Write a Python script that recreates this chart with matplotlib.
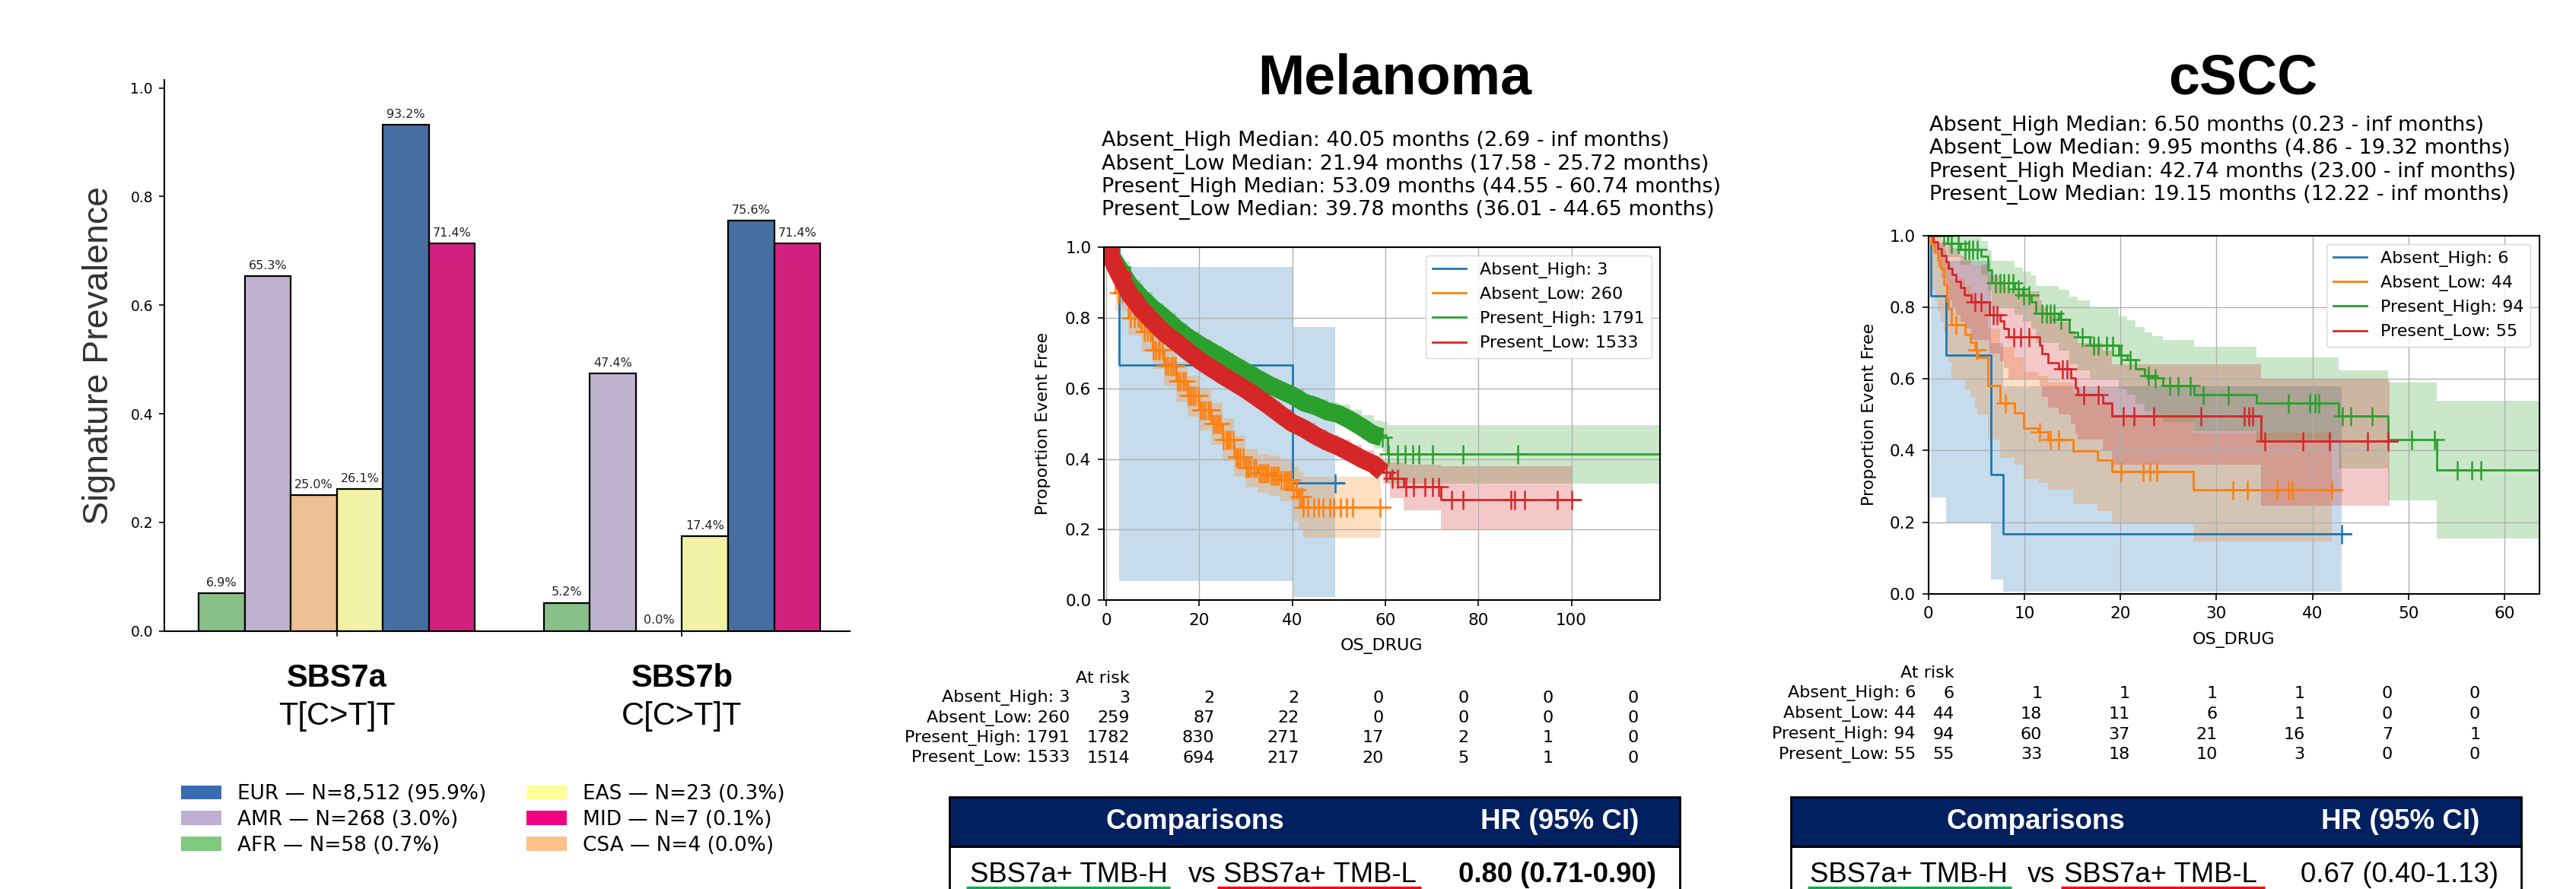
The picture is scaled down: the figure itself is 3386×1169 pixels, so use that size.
import colorsys

import numpy as np
import matplotlib
matplotlib.use("Agg")
import matplotlib.pyplot as plt
from matplotlib.patches import Patch, Rectangle
from matplotlib.transforms import blended_transform_factory

plt.rcParams["font.family"] = ["DejaVu Sans"]
ARIAL = "Liberation Sans"

W, H = 3387, 1169

# ---------------- bar chart data ----------------
ancestries = ["AFR", "AMR", "CSA", "EAS", "EUR", "MID"]
anc_colors = ["#7fc97f", "#beaed4", "#fdc086", "#ffff99", "#386cb0", "#f0027f"]
sbs7a_prev = [0.069, 0.653, 0.250, 0.261, 0.932, 0.714]
sbs7b_prev = [0.052, 0.474, 0.0, 0.174, 0.756, 0.714]
signatures = ["SBS7a", "SBS7b"]
contexts = ["T[C>T]T", "C[C>T]T"]
legend_order = ["EUR", "AMR", "AFR", "EAS", "MID", "CSA"]
legend_labels = ["EUR — N=8,512 (95.9%)", "AMR — N=268 (3.0%)", "AFR — N=58 (0.7%)",
                 "EAS — N=23 (0.3%)", "MID — N=7 (0.1%)", "CSA — N=4 (0.0%)"]

# ---------------- KM data: melanoma ----------------
mel_ah_t = [0, 2.69, 40.05]
mel_ah_s = [1.0, 0.667, 0.333]
mel_ah_lo = [1.0, 0.054, 0.009]
mel_ah_hi = [1.0, 0.945, 0.774]
mel_ah_cens = [49.2]

mel_al_t = [0, 2.0, 4.75, 7.5, 10, 12.5, 15, 17.5, 20, 22.5, 25, 27.5, 30, 32.5, 35, 37.5, 40, 41.3, 42.4]
mel_al_s = [1.0, 0.87, 0.8, 0.76, 0.71, 0.665, 0.62, 0.58, 0.54, 0.5, 0.455, 0.405, 0.375, 0.36,
            0.353, 0.34, 0.314, 0.293, 0.264]
mel_al_lo = [1.0, 0.82, 0.75, 0.705, 0.655, 0.605, 0.56, 0.52, 0.48, 0.44, 0.395, 0.35, 0.32, 0.305,
             0.295, 0.28, 0.225, 0.2, 0.178]
mel_al_hi = [1.0, 0.91, 0.85, 0.81, 0.765, 0.72, 0.675, 0.635, 0.6, 0.56, 0.515, 0.465, 0.43, 0.415,
             0.41, 0.4, 0.38, 0.365, 0.35]
mel_al_cens = [2.6, 3.5, 4.3, 5.2, 6.0, 6.8, 7.4, 8.1, 8.8, 9.4, 10.1, 10.6, 11.2, 11.5, 12.1, 12.7,
               13.3, 13.9, 14.4, 14.8, 15.4, 15.9, 16.5, 17.0, 17.6, 18.2, 18.7, 19.1, 19.8, 20.3,
               20.8, 21.2, 21.9, 22.4, 23.0, 23.5, 24.1, 24.6, 25.2, 25.8, 26.2, 26.7, 27.3, 27.9,
               28.3, 28.8, 29.5, 30.1, 30.6, 31.0, 31.7, 32.2, 32.8, 33.4, 33.9, 34.3, 34.9, 35.5,
               36.0, 36.4, 37.0, 37.6, 38.2, 38.8, 39.2, 39.7, 40.3, 40.9, 41.5, 42.0, 42.4, 43.3,
               44.6, 45.7, 46.6, 48.1, 48.9, 50.3, 51.7, 53.0, 58.8]

mel_ph_t = [0, 2.5, 5, 7.5, 10, 12.5, 15, 17.5, 20, 22.5, 25, 27.5, 30, 32.5, 35, 37.5, 40, 42.5,
            45, 47.5, 50, 52.5, 55, 57.5, 59.3, 60.5]
mel_ph_s = [1.0, 0.945, 0.893, 0.857, 0.826, 0.8, 0.77, 0.745, 0.724, 0.705, 0.686, 0.666, 0.647,
            0.628, 0.61, 0.595, 0.58, 0.56, 0.55, 0.535, 0.527, 0.51, 0.49, 0.468, 0.462, 0.415]
mel_ph_lo = [1.0, 0.93, 0.878, 0.842, 0.811, 0.785, 0.755, 0.73, 0.709, 0.69, 0.671, 0.651, 0.632,
             0.613, 0.595, 0.58, 0.563, 0.542, 0.53, 0.51, 0.5, 0.48, 0.455, 0.43, 0.42, 0.33]
mel_ph_hi = [1.0, 0.96, 0.908, 0.872, 0.841, 0.815, 0.785, 0.76, 0.739, 0.72, 0.701, 0.681, 0.662,
             0.643, 0.625, 0.61, 0.597, 0.578, 0.57, 0.56, 0.555, 0.54, 0.525, 0.51, 0.505, 0.495]
mel_ph_cens = [58.2, 59.4, 60.7, 62.6, 64.2, 65.9, 67.2, 70.2, 76.7, 88.5]

mel_pl_t = [0, 2.5, 5, 7.5, 10, 12.5, 15, 17.5, 20, 22.5, 25, 27.5, 30, 32.5, 35, 37.5, 40, 42.5,
            45, 47.5, 50, 52.5, 55, 57.5, 59.5, 61, 64, 72]
mel_pl_s = [1.0, 0.93, 0.868, 0.825, 0.79, 0.757, 0.732, 0.705, 0.68, 0.658, 0.637, 0.617, 0.597,
            0.574, 0.551, 0.526, 0.502, 0.486, 0.466, 0.449, 0.435, 0.418, 0.4, 0.385, 0.362,
            0.345, 0.322, 0.286]
mel_pl_lo = [1.0, 0.915, 0.853, 0.81, 0.775, 0.742, 0.717, 0.69, 0.665, 0.643, 0.622, 0.602, 0.582,
             0.559, 0.536, 0.511, 0.487, 0.47, 0.449, 0.431, 0.415, 0.395, 0.375, 0.355, 0.33,
             0.29, 0.255, 0.198]
mel_pl_hi = [1.0, 0.945, 0.883, 0.84, 0.805, 0.772, 0.747, 0.72, 0.695, 0.673, 0.652, 0.632, 0.612,
             0.589, 0.566, 0.541, 0.517, 0.502, 0.483, 0.467, 0.455, 0.44, 0.425, 0.41, 0.395,
             0.39, 0.385, 0.38]
mel_pl_cens = [60.2, 61.5, 62.7, 64.4, 66, 68.5, 70.1, 71.4, 74.2, 76.7, 87, 87.8, 89.9, 96.9, 100]

mel_medians = ["Absent_High Median: 40.05 months (2.69 - inf months)",
               "Absent_Low Median: 21.94 months (17.58 - 25.72 months)",
               "Present_High Median: 53.09 months (44.55 - 60.74 months)",
               "Present_Low Median: 39.78 months (36.01 - 44.65 months)"]
mel_risk_times = [0, 20, 40, 60, 80, 100, 120]
mel_risk_labels = ["Absent_High: 3", "Absent_Low: 260", "Present_High: 1791", "Present_Low: 1533"]
mel_risk_counts = [[3, 2, 2, 0, 0, 0, 0],
                   [259, 87, 22, 0, 0, 0, 0],
                   [1782, 830, 271, 17, 2, 1, 0],
                   [1514, 694, 217, 20, 5, 1, 0]]

# ---------------- KM data: cSCC ----------------
cs_ah_t = [0, 0.23, 1.83, 6.5, 7.8]
cs_ah_s = [1.0, 0.833, 0.667, 0.333, 0.167]
cs_ah_lo = [1.0, 0.27, 0.197, 0.04, 0.005]
cs_ah_hi = [1.0, 0.98, 0.93, 0.7, 0.58]
cs_ah_cens = [43.0]

cs_al_t = [0, 0.3, 0.7, 1.0, 1.3, 1.6, 1.9, 2.1, 2.4, 3.8, 4.4, 4.9, 5.1, 6.2, 7.5, 9.0, 9.9, 11.4,
           12.5, 15.1, 17.6, 19.1, 27.6]
cs_al_s = [1.0, 0.977, 0.955, 0.932, 0.909, 0.864, 0.818, 0.795, 0.752, 0.724, 0.703, 0.681, 0.66,
           0.582, 0.533, 0.504, 0.462, 0.451, 0.431, 0.398, 0.373, 0.341, 0.29]
cs_al_lo = [1.0, 0.85, 0.82, 0.79, 0.76, 0.73, 0.68, 0.65, 0.6, 0.57, 0.55, 0.52, 0.5, 0.43, 0.38,
            0.36, 0.32, 0.31, 0.29, 0.25, 0.23, 0.195, 0.145]
cs_al_hi = [1.0, 0.997, 0.99, 0.98, 0.97, 0.96, 0.93, 0.92, 0.88, 0.86, 0.84, 0.82, 0.81, 0.74, 0.69,
            0.66, 0.62, 0.61, 0.59, 0.56, 0.53, 0.5, 0.45]
cs_al_cens = [2.9, 5.0, 8.0, 11.6, 12.7, 13.6, 20.1, 22.4, 23.1, 23.8, 31.7, 33.2, 36.3, 37.5, 37.9, 42.0]

cs_ph_t = [0, 2.04, 3.35, 5.52, 6.17, 6.61, 9.0, 9.87, 10.74, 11.17, 13.57, 14.65, 15.52, 16.83,
           19.87, 20.74, 21.6, 22.5, 23.35, 24.43, 27.7, 34.2, 42.74, 47.9, 52.9]
cs_ph_s = [1.0, 0.979, 0.961, 0.943, 0.904, 0.869, 0.851, 0.834, 0.816, 0.784, 0.766, 0.731, 0.717,
           0.695, 0.667, 0.653, 0.628, 0.61, 0.603, 0.582, 0.557, 0.533, 0.496, 0.43, 0.346]
cs_ph_lo = [1.0, 0.94, 0.92, 0.89, 0.845, 0.8, 0.78, 0.76, 0.74, 0.7, 0.68, 0.64, 0.625, 0.6, 0.57,
            0.555, 0.53, 0.51, 0.5, 0.48, 0.455, 0.425, 0.35, 0.26, 0.155]
cs_ph_hi = [1.0, 1.0, 0.995, 0.985, 0.96, 0.93, 0.91, 0.9, 0.89, 0.86, 0.85, 0.83, 0.82, 0.8, 0.775,
            0.765, 0.745, 0.73, 0.72, 0.71, 0.69, 0.66, 0.625, 0.59, 0.54]
cs_ph_cens = [1.6, 2.4, 3.1, 3.8, 4.2, 4.65, 5.1, 7.0, 7.5, 7.9, 8.35, 8.8, 9.35, 9.95, 10.5, 11.8,
              12.3, 12.7, 13.1, 13.8, 16.0, 17.2, 17.7, 18.6, 19.2, 20.1, 21.0, 22.9, 23.6, 25.1,
              26.0, 27.3, 28.6, 31.2, 37.5, 39.7, 40.3, 40.7, 43.1, 44.0, 46.2, 50.3, 52.7, 55.1,
              56.6, 57.5]

cs_pl_t = [0, 0.52, 0.96, 1.39, 1.83, 2.13, 2.48, 2.91, 3.35, 3.78, 4.43, 6.39, 7.48, 7.91, 8.35,
           11.6, 11.83, 12.48, 13.57, 14.87, 15.3, 15.52, 18.13, 19.15, 34.65]
cs_pl_s = [1.0, 0.982, 0.964, 0.945, 0.927, 0.909, 0.891, 0.873, 0.855, 0.835, 0.816, 0.78, 0.763,
           0.741, 0.717, 0.695, 0.67, 0.646, 0.628, 0.603, 0.575, 0.557, 0.533, 0.497, 0.426]
cs_pl_lo = [1.0, 0.95, 0.91, 0.88, 0.85, 0.82, 0.8, 0.78, 0.76, 0.74, 0.71, 0.67, 0.65, 0.63, 0.6,
            0.58, 0.55, 0.52, 0.5, 0.475, 0.445, 0.43, 0.4, 0.36, 0.245]
cs_pl_hi = [1.0, 1.0, 0.998, 0.99, 0.985, 0.975, 0.965, 0.955, 0.945, 0.935, 0.92, 0.89, 0.875,
            0.86, 0.845, 0.82, 0.8, 0.78, 0.76, 0.735, 0.715, 0.7, 0.68, 0.64, 0.6]
cs_pl_cens = [4.87, 5.52, 6.74, 7.17, 8.91, 9.65, 10.52, 14.0, 14.43, 16.17, 17.7, 20.3, 21.4, 23.5,
              28.35, 32.9, 33.35, 33.8, 35.0, 39.0, 41.8, 45.7, 47.9]

cs_medians = ["Absent_High Median: 6.50 months (0.23 - inf months)",
              "Absent_Low Median: 9.95 months (4.86 - 19.32 months)",
              "Present_High Median: 42.74 months (23.00 - inf months)",
              "Present_Low Median: 19.15 months (12.22 - inf months)"]
cs_risk_times = [0, 10, 20, 30, 40, 50, 60]
cs_risk_labels = ["Absent_High: 6", "Absent_Low: 44", "Present_High: 94", "Present_Low: 55"]
cs_risk_counts = [[6, 1, 1, 1, 1, 0, 0],
                  [44, 18, 11, 6, 1, 0, 0],
                  [94, 60, 37, 21, 16, 7, 1],
                  [55, 33, 18, 10, 3, 0, 0]]

comparison = ["SBS7a+ TMB-H", "vs", "SBS7a+ TMB-L"]
mel_hr = "0.80 (0.71-0.90)"
cs_hr = "0.67 (0.40-1.13)"

KM_COLORS = ["#1f77b4", "#ff7f0e", "#2ca02c", "#d62728"]


def rect(l, t, r, b):
    return [l / W, 1 - b / H, (r - l) / W, (b - t) / H]


def desat(c, prop=0.75):
    r, g, b = matplotlib.colors.to_rgb(c)
    h, l, s = colorsys.rgb_to_hls(r, g, b)
    return colorsys.hls_to_rgb(h, l, s * prop)


def step_value(tk, sk, tq):
    idx = np.searchsorted(tk, tq, side="right") - 1
    return np.asarray(sk)[idx]


def draw_km(ax, curves):
    for c in curves:
        t = np.asarray(c["t"], float)
        tt = np.append(t, c["ci_end"])
        ax.fill_between(tt, np.append(c["lo"], c["lo"][-1]), np.append(c["hi"], c["hi"][-1]),
                        step="post", color=c["color"], alpha=0.25, linewidth=0)
        ax.plot(np.append(t, c["end"]), np.append(c["s"], c["s"][-1]), drawstyle="steps-post",
                color=c["color"], lw=2, label=c["label"])
        if c.get("band_end"):
            # hundreds of censor ticks merge into a solid band here
            m = t <= c["band_end"]
            ax.plot(t[m], np.asarray(c["s"])[m], color=c["color"], lw=17, solid_capstyle="butt")
        cens = np.asarray(c["cens"])
        ax.plot(cens, step_value(t, c["s"], cens), ls="none", marker="+", ms=18, mew=1.8,
                color=c["color"])


def style_km(ax, xlim, xticks):
    ax.set_xlim(*xlim)
    ax.set_ylim(0, 1)
    ax.set_xticks(xticks)
    ax.set_yticks(np.arange(0, 1.01, 0.2))
    ax.grid(True, color="#b0b0b0", lw=1)
    ax.tick_params(labelsize=15.5, length=6, width=1.2, pad=6)
    for sp in ax.spines.values():
        sp.set_linewidth(1.5)
    ax.legend(loc="upper right", fontsize=16)


fig = plt.figure(figsize=(W / 100, H / 100), dpi=100)

# ================= bar chart =================
axb = fig.add_axes(rect(215.7, 104.9, 1116.6, 829.7))
prev = np.array([sbs7a_prev, sbs7b_prev])
x = np.arange(len(signatures))
w = 0.8 / len(ancestries)
for i, anc in enumerate(ancestries):
    xs = x + (i - (len(ancestries) - 1) / 2) * w
    axb.bar(xs, prev[:, i], width=w, color=desat(anc_colors[i]), edgecolor="black", linewidth=1.6)
    for xi, v in zip(xs, prev[:, i]):
        axb.annotate(f"{v * 100:.1f}%", (xi, v), xytext=(0, 4.5), textcoords="offset points",
                     ha="center", va="bottom", fontsize=11.5, color="#222222")
axb.set_xlim(-0.5, 1.485)
axb.set_ylim(0, 1.015)
axb.set_xticks(x)
axb.set_xticklabels([])
axb.set_yticks(np.arange(0, 1.01, 0.2))
axb.spines["top"].set_visible(False)
axb.spines["right"].set_visible(False)
for sp in ("left", "bottom"):
    axb.spines[sp].set_linewidth(1.5)
axb.tick_params(labelsize=13.5, length=5, width=1.2, pad=5.5)

tr = blended_transform_factory(axb.transData, fig.transFigure)
for xi, sig, ctx in zip(x, signatures, contexts):
    axb.text(xi, 1 - 903.3 / H, sig, transform=tr, ha="center", va="baseline",
             fontsize=30, fontweight="bold", family=ARIAL)
    axb.text(xi, 1 - 953.3 / H, ctx, transform=tr, ha="center", va="baseline",
             fontsize=30, family=ARIAL)

fig.text(129.5 / W, 1 - 467.3 / H, "Signature Prevalence", rotation=90, ha="center",
         va="center", fontsize=33.5, family=ARIAL, color="#333333")

handles = [Patch(facecolor=anc_colors[ancestries.index(a)], edgecolor="none") for a in legend_order]
fig.legend(handles, legend_labels, ncol=2, loc="upper left",
           bbox_to_anchor=(238 / W, 1 - 1031 / H), frameon=False, fontsize=19,
           borderaxespad=0, borderpad=0, labelspacing=0.3, columnspacing=2.0,
           handlelength=2.0, handleheight=0.7, handletextpad=0.8)

# ================= KM: melanoma =================
labels_mel = ["Absent_High: 3", "Absent_Low: 260", "Present_High: 1791", "Present_Low: 1533"]
mel_curves = [
    dict(t=mel_ah_t, s=mel_ah_s, lo=mel_ah_lo, hi=mel_ah_hi, cens=mel_ah_cens, ci_end=49.2, end=51.0),
    dict(t=mel_al_t, s=mel_al_s, lo=mel_al_lo, hi=mel_al_hi, cens=mel_al_cens, ci_end=59.0, end=61.0),
    dict(t=mel_ph_t, s=mel_ph_s, lo=mel_ph_lo, hi=mel_ph_hi, cens=mel_ph_cens, ci_end=119.0,
         end=119.0, band_end=59.5),
    dict(t=mel_pl_t, s=mel_pl_s, lo=mel_pl_lo, hi=mel_pl_hi, cens=mel_pl_cens, ci_end=100.0,
         end=101.8, band_end=60.0),
]
for c, col, lab in zip(mel_curves, KM_COLORS, labels_mel):
    c["color"] = col
    c["label"] = lab
axm = fig.add_axes(rect(1451, 325, 2181.7, 789.3))
draw_km(axm, mel_curves)
style_km(axm, (-0.5, 119), np.arange(0, 101, 20))

# ================= KM: cSCC =================
labels_cs = ["Absent_High: 6", "Absent_Low: 44", "Present_High: 94", "Present_Low: 55"]
cs_curves = [
    dict(t=cs_ah_t, s=cs_ah_s, lo=cs_ah_lo, hi=cs_ah_hi, cens=cs_ah_cens, ci_end=43.0, end=44.0),
    dict(t=cs_al_t, s=cs_al_s, lo=cs_al_lo, hi=cs_al_hi, cens=cs_al_cens, ci_end=42.0, end=43.0),
    dict(t=cs_ph_t, s=cs_ph_s, lo=cs_ph_lo, hi=cs_ph_hi, cens=cs_ph_cens, ci_end=63.65, end=63.65),
    dict(t=cs_pl_t, s=cs_pl_s, lo=cs_pl_lo, hi=cs_pl_hi, cens=cs_pl_cens, ci_end=48.0, end=48.8),
]
for c, col, lab in zip(cs_curves, KM_COLORS, labels_cs):
    c["color"] = col
    c["label"] = lab
axc = fig.add_axes(rect(2534.6, 310, 3337.6, 780.7))
draw_km(axc, cs_curves)
style_km(axc, (0, 63.6), np.arange(0, 61, 10))

# ================= text overlay (pixel coords) =================
ov = fig.add_axes([0, 0, 1, 1])
ov.set_xlim(0, W)
ov.set_ylim(H, 0)
ov.axis("off")

panels = [
    dict(title="Melanoma", tx=1833.5, med=mel_medians, mx=1448, my=192.5, ylab=(1371, 557.2),
         xlab=(1816, 849), rt=mel_risk_times, rl=mel_risk_labels, rc=mel_risk_counts,
         r0=1485, rspan=668.4, rlab=1406, ry=891.5, rdy=26.3,
         box=(1248, 2208), words=(1275.3, 1562, 1608, 1917.5), hr=mel_hr, hr_bold=True,
         ul=((1270, 1538), (1600, 1868)), heads=(1571, 2050)),
    dict(title="cSCC", tx=2948, med=cs_medians, mx=2535.7, my=172.2, ylab=(2457, 545.4),
         xlab=(2936, 841), rt=cs_risk_times, rl=cs_risk_labels, rc=cs_risk_counts,
         r0=2569, rspan=691.2, rlab=2518, ry=884.8, rdy=26.9,
         box=(2353.6, 3314), words=(2379, 2665, 2713, 3024.4), hr=cs_hr, hr_bold=False,
         ul=((2376, 2644), (2709, 2977)), heads=(2676, 3155)),
]

for p in panels:
    ov.text(p["tx"], 123.2, p["title"], ha="center", va="baseline", fontsize=53,
            fontweight="bold", family=ARIAL)
    for k, line in enumerate(p["med"]):
        ov.text(p["mx"], p["my"] + k * 30.2, line, ha="left", va="baseline", fontsize=19.5)
    ov.text(*p["ylab"], "Proportion Event Free", rotation=90, ha="center", va="center", fontsize=16)
    ov.text(*p["xlab"], "OS_DRUG", ha="center", va="center", fontsize=16)

    # at-risk table
    tmax = p["rt"][-1]
    ov.text(p["r0"], p["ry"], "At risk", ha="right", va="center", fontsize=16)
    for r, (lab, counts) in enumerate(zip(p["rl"], p["rc"])):
        yy = p["ry"] + (r + 1) * p["rdy"]
        ov.text(p["rlab"], yy, lab, ha="right", va="center", fontsize=16)
        for tval, n in zip(p["rt"], counts):
            ov.text(p["r0"] + tval / tmax * p["rspan"], yy, str(n), ha="right", va="center",
                    fontsize=16)

    # comparison table
    x0, x1 = p["box"]
    ov.add_patch(Rectangle((x0, 1113.3), x1 - x0, 90, facecolor="white", edgecolor="black",
                           lw=2, clip_on=False))
    ov.add_patch(Rectangle((x0, 1047.7), x1 - x0, 65.6, facecolor="#002060", edgecolor="black",
                           lw=2, clip_on=False))
    ov.text(p["heads"][0], 1081, "Comparisons", ha="center", va="center", color="white",
            fontsize=26.5, fontweight="bold", family=ARIAL)
    ov.text(p["heads"][1], 1081, "HR (95% CI)", ha="center", va="center", color="white",
            fontsize=26.5, fontweight="bold", family=ARIAL)
    for wx, word in zip(p["words"][:3], comparison):
        ov.text(wx, 1160, word, ha="left", va="baseline", fontsize=26.3, family=ARIAL)
    ov.text(p["words"][3], 1160, p["hr"], ha="left", va="baseline", fontsize=26.3, family=ARIAL,
            fontweight="bold" if p["hr_bold"] else "normal")
    (g0, g1), (r0_, r1_) = p["ul"]
    ov.plot([g0, g1], [1167, 1167], color="#00b050", lw=2.5, solid_capstyle="butt")
    ov.plot([r0_, r1_], [1167, 1167], color="#ff0000", lw=2.5, solid_capstyle="butt")

fig.savefig("out.png", dpi=100)
